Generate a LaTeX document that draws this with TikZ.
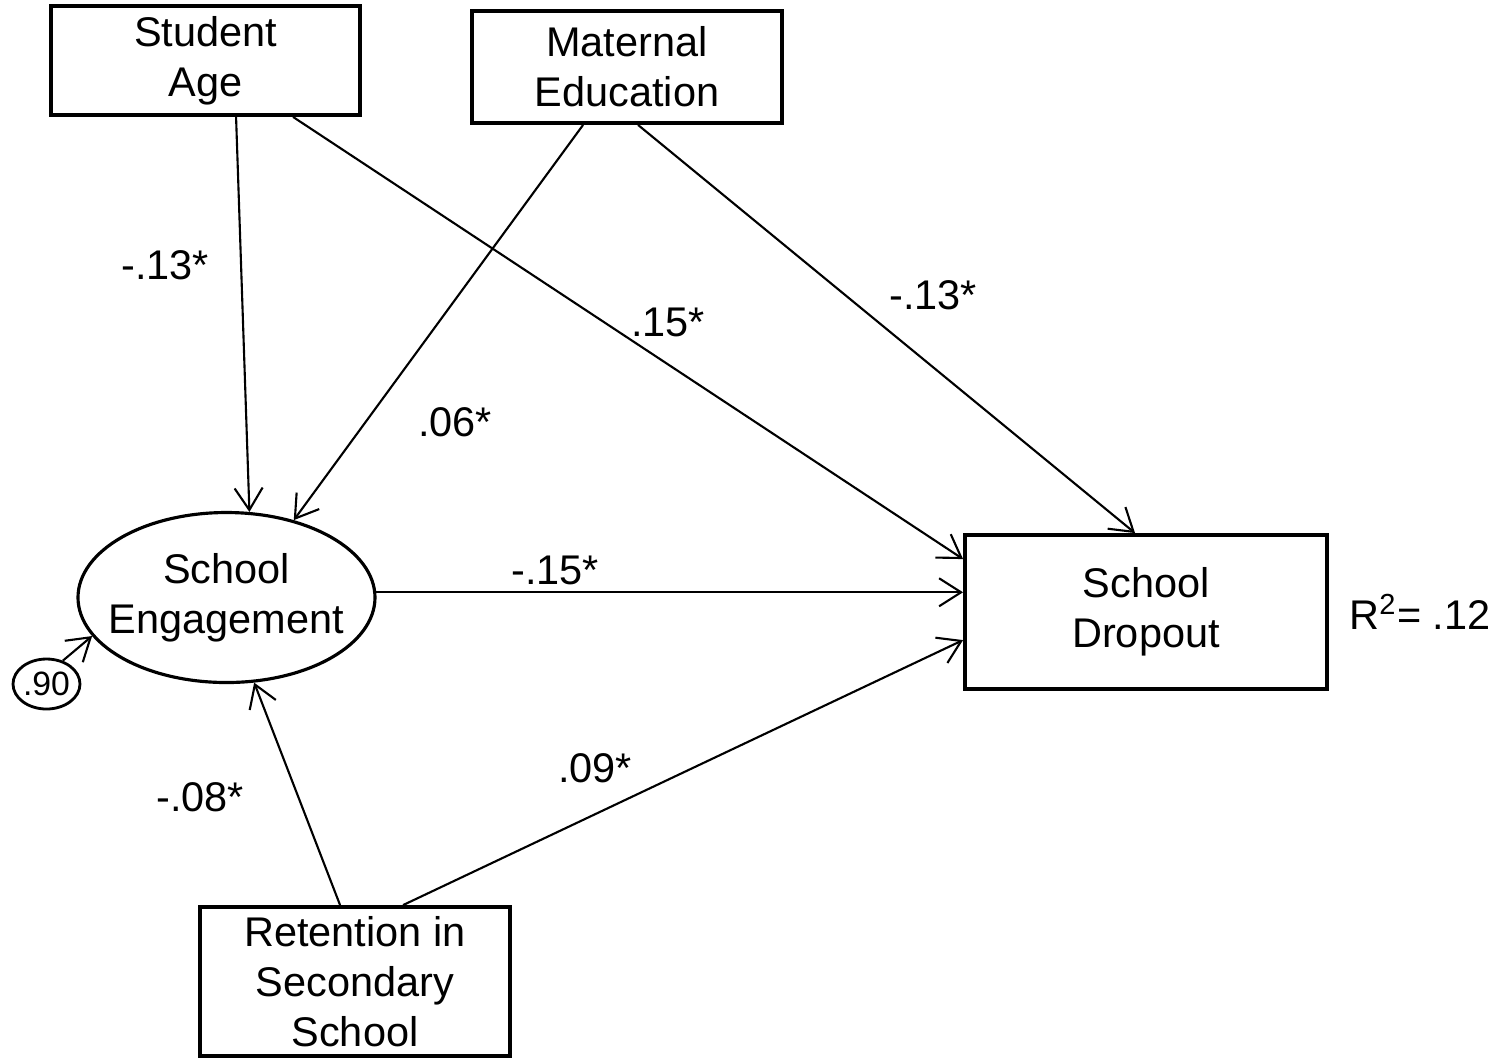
\documentclass[tikz,border=0pt]{standalone}
\usepackage{fontspec}
\setmainfont{Liberation Sans}
\usepackage{tikz}
\usetikzlibrary{shapes,arrows,positioning,calc,arrows.meta}

\begin{document}
\begin{tikzpicture}[
    font=\fontsize{11.8}{14.2}\selectfont,
    varbox/.style={draw, line width=1.1pt, align=center, inner sep=0pt},
    latent/.style={draw, ellipse, line width=0.9pt, align=center, inner xsep=-1cm, inner ysep=-1cm},
    path/.style={line width=0.6pt, -{Straight Barb[length=2.2mm,width=2.8mm,line width=0.6pt]}},
    coef/.style={inner sep=1pt}
]
    \useasboundingbox (0,0) rectangle (15.06,-10.58);

    % Variables
    \node[varbox, minimum width=3.09cm, minimum height=1.09cm] (age) at (2.055,-0.605) {Student\\Age};
    \node[varbox, minimum width=3.10cm, minimum height=1.12cm] (mat) at (6.27,-0.67) {Maternal\\Education};
    \node[latent, minimum width=2.97cm, minimum height=1.70cm] (eng) at (2.265,-5.975) {School\\Engagement};
    \node[varbox, minimum width=3.62cm, minimum height=1.54cm] (drop) at (11.46,-6.12) {School\\Dropout};
    \node[varbox, minimum width=3.10cm, minimum height=1.49cm] (ret) at (3.55,-9.815) {Retention in\\Secondary\\School};
    \node[draw, ellipse, line width=0.8pt, inner xsep=-1cm, inner ysep=-1cm, minimum width=0.67cm, minimum height=0.50cm,
          font=\fontsize{9.6}{11}\selectfont] (res) at (0.465,-6.84) {.90};
    \node (rsq) at (14.20,-6.12) {R\textsuperscript{2}= .12};

    % Paths
    \draw[path] ($(age.south west)+(1.87,0)$) -- (eng.75);
    \draw[path] ($(age.south west)+(2.44,0)$) -- ($(drop.north west)+(0,-0.26)$);
    \draw[path] ($(mat.south west)+(1.13,0)$) -- (eng.49);
    \draw[path] ($(mat.south west)+(1.68,0)$) -- ($(drop.north west)+(1.72,0)$);
    \draw[path] (eng.2.5) -- (eng.2.5 -| drop.west);
    \draw[path] ($(ret.north west)+(1.42,0)$) -- (eng.-72);
    \draw[path] ($(ret.north west)+(2.05,0)$) -- ($(drop.north west)+(0,-1.07)$);
    \draw[path] (res.55) -- (eng.196);

    % Coefficients
    \node[coef] (c1) at (1.65,-2.65) {-.13*};
    \node[coef] (c2) at (6.68,-3.22) {.15*};
    \node[coef] (c3) at (4.55,-4.22) {.06*};
    \node[coef] (c4) at (9.33,-2.95) {-.13*};
    \node[coef] (c5) at (5.55,-5.70) {-.15*};
    \node[coef] (c6) at (2.00,-7.97) {-.08*};
    \node[coef] (c7) at (5.95,-7.68) {.09*};
\end{tikzpicture}
\end{document}
